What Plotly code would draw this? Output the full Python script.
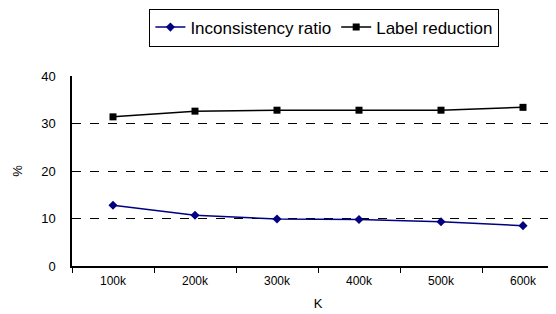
import plotly.graph_objects as go

categories = ["100k", "200k", "300k", "400k", "500k", "600k"]
inconsistency_ratio = [12.8, 10.7, 9.9, 9.8, 9.3, 8.5]
label_reduction = [31.4, 32.6, 32.8, 32.8, 32.8, 33.4]
y_ticks = [0, 10, 20, 30, 40]

fig = go.Figure()
fig.add_trace(go.Scatter(
    x=categories, y=inconsistency_ratio, name="Inconsistency ratio",
    mode="lines+markers",
    line=dict(color="#000080", width=1.5),
    marker=dict(symbol="diamond", size=7, color="#000080"),
))
fig.add_trace(go.Scatter(
    x=categories, y=label_reduction, name="Label reduction",
    mode="lines+markers",
    line=dict(color="#000000", width=1.5),
    marker=dict(symbol="square", size=7, color="#000000"),
))

fig.update_layout(
    width=556, height=314,
    margin=dict(l=64, r=0, t=68, b=56),
    paper_bgcolor="white", plot_bgcolor="white",
    font=dict(family="Liberation Sans, Arial, sans-serif", size=12, color="#000000"),
    showlegend=True,
    legend=dict(
        orientation="h", x=0.513, xanchor="center", y=1.355, yanchor="top",
        bordercolor="#000000", borderwidth=1, font=dict(size=17),
        itemwidth=30, tracegroupgap=0,
    ),
    xaxis=dict(
        type="category", showline=True, linecolor="#000000", linewidth=1.5,
        ticks="outside", tickson="boundaries", ticklen=5, tickcolor="#000000",
        showgrid=False, zeroline=False, ticklabelstandoff=3,
        title=dict(text="K", font=dict(size=13), standoff=12),
        range=[-0.5, 5.5],
    ),
    yaxis=dict(
        range=[0, 40], tickvals=y_ticks, showline=True, linecolor="#000000", linewidth=1.5,
        showgrid=True, gridcolor="#000000", griddash="dash", gridwidth=1,
        zeroline=False, ticks="", ticklen=0, ticklabelstandoff=12,
        title=dict(text="%", font=dict(size=13), standoff=16),
        tickfont=dict(size=13),
    ),
)
fig.write_html("out.html")
